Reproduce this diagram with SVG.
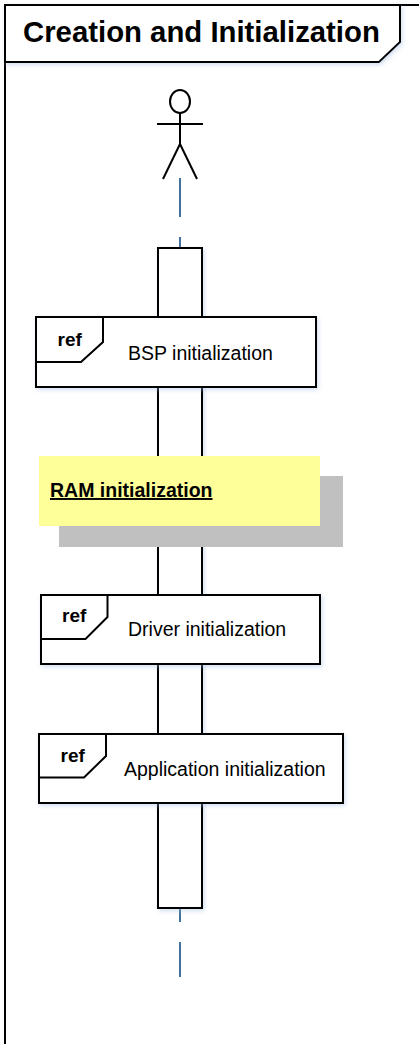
<svg xmlns="http://www.w3.org/2000/svg" width="419" height="1044" viewBox="0 0 419 1044">
<style>
.ln{fill:none;stroke:#000;stroke-width:2}
.box{fill:#fff;stroke:#000;stroke-width:2}
.life{stroke:#41719c;stroke-width:2;fill:none}
.lbl{font-family:"Liberation Sans",Arial,sans-serif;font-size:19.5px;fill:#000}
.ref{font-family:"Liberation Sans",Arial,sans-serif;font-size:19px;font-weight:bold;fill:#000}
.title{font-family:"Liberation Sans",Arial,sans-serif;font-size:29.33px;font-weight:bold;fill:#000}
</style>
<defs>
<filter id="glow" x="-10%" y="-10%" width="120%" height="120%">
<feDropShadow dx="1.5" dy="2" stdDeviation="2" flood-color="#9dbbe3" flood-opacity="0.45"/>
</filter>
</defs>
<rect width="419" height="1044" fill="#fff"/>
<g id="frame">
<path class="ln" d="M5,1044 V5 H419"/>
<path class="box" filter="url(#glow)" d="M5,5 H400 V42 L379,62 H5 Z"/>
<text class="title" x="23" y="42">Creation and Initialization</text>
</g>
<g id="actor" class="ln" stroke-width="1.8">
<ellipse cx="180" cy="101.5" rx="10" ry="11.5"/>
<line x1="180" y1="113" x2="180" y2="144"/>
<line x1="157" y1="124" x2="203" y2="124"/>
<line x1="180" y1="144" x2="163" y2="179"/>
<line x1="180" y1="144" x2="197" y2="179"/>
</g>
<g id="connectors">
<line class="life" x1="180" y1="178" x2="180" y2="217"/>
<line class="life" x1="180" y1="237" x2="180" y2="248"/>
<line class="life" x1="180" y1="908" x2="180" y2="922"/>
<line class="life" x1="180" y1="942" x2="180" y2="977"/>
</g>
<g id="activation">
<rect class="box" filter="url(#glow)" x="158" y="248" width="44" height="660"/>
</g>
<g id="bsp_ref">
<rect class="box" filter="url(#glow)" x="36" y="317" width="280" height="70"/>
<path class="ln" d="M103,317 V342 L81,362 H36"/>
<text class="ref" x="57.5" y="345.5">ref</text>
<text class="lbl" x="128" y="360">BSP initialization</text>
</g>
<g id="ram_note">
<rect x="59" y="476" width="284" height="71" fill="#c0c0c0"/>
<rect x="39" y="456" width="281" height="70" fill="#ffff99"/>
<text class="lbl" font-weight="bold" text-decoration="underline" x="50" y="497">RAM initialization</text>
</g>
<g id="driver_ref">
<rect class="box" filter="url(#glow)" x="41" y="595" width="279" height="69"/>
<path class="ln" d="M107.5,595 V617 L85.5,639 H41"/>
<text class="ref" x="62" y="622">ref</text>
<text class="lbl" x="128" y="636">Driver initialization</text>
</g>
<g id="app_ref">
<rect class="box" filter="url(#glow)" x="39" y="734" width="304" height="69"/>
<path class="ln" d="M106,734 V756 L84,777.5 H39"/>
<text class="ref" x="60.5" y="761.5">ref</text>
<text class="lbl" x="124" y="776">Application initialization</text>
</g>
</svg>
